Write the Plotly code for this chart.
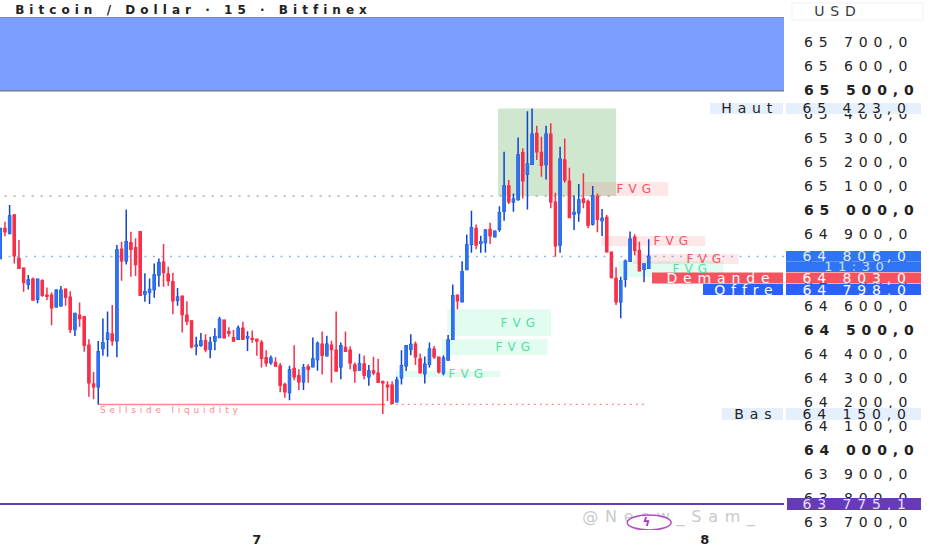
import plotly.graph_objects as go

# one row per candle (prices in USD)
opens = [64798, 64923, 64902, 64979, 64798, 64757, 64691, 64711, 64629, 64705,
         64645, 64645, 64597, 64601, 64670, 64636, 64502, 64562, 64555, 64437,
         64275, 64264, 64423, 64462, 64483, 64455, 64836, 64789, 64864, 64843,
         64909, 64650, 64658, 64669, 64729, 64782, 64733, 64701, 64625, 64641,
         64562, 64538, 64433, 64437, 64455, 64420, 64454, 64469, 64541, 64493,
         64468, 64462, 64507, 64468, 64465, 64461, 64448, 64384, 64365, 64365,
         64350, 64273, 64240, 64340, 64309, 64284, 64347, 64347, 64377, 64441,
         64393, 64436, 64416, 64347, 64427, 64416, 64354, 64333, 64358, 64305,
         64329, 64320, 64284, 64270, 64270, 64201, 64301, 64351, 64420, 64441,
         64379, 64319, 64357, 64420, 64386, 64322, 64375, 64461, 64645, 64618,
         64752, 64857, 64923, 64861, 64865, 64919, 64889, 64920, 64995, 65100,
         65034, 65044, 65239, 65150, 65191, 65319, 65240, 65190, 65316, 65032,
         64854, 65208, 65120, 64983, 64989, 65046, 65035, 64942, 65056, 64956,
         64969, 64824, 64715, 64618, 64711, 64787, 64886, 64831, 64753, 64757]
highs = [64926, 64951, 65021, 64983, 64875, 64759, 64729, 64719, 64715, 64711,
         64677, 64657, 64670, 64683, 64673, 64662, 64572, 64615, 64558, 64462,
         64325, 64454, 64548, 64577, 64604, 64854, 64868, 65002, 64909, 64882,
         64912, 64736, 64715, 64777, 64798, 64858, 64764, 64739, 64675, 64644,
         64620, 64541, 64472, 64488, 64482, 64472, 64507, 64555, 64544, 64511,
         64500, 64519, 64534, 64495, 64498, 64465, 64458, 64416, 64394, 64386,
         64363, 64280, 64351, 64436, 64336, 64358, 64357, 64469, 64452, 64494,
         64476, 64455, 64577, 64448, 64494, 64432, 64365, 64401, 64394, 64354,
         64389, 64380, 64290, 64286, 64286, 64305, 64416, 64436, 64482, 64452,
         64402, 64390, 64448, 64433, 64390, 64395, 64479, 64690, 64648, 64787,
         64898, 64997, 64940, 64893, 64921, 64947, 64914, 65016, 65243, 65125,
         65069, 65302, 65257, 65412, 65423, 65351, 65305, 65351, 65361, 65072,
         65264, 65298, 65176, 65060, 65108, 65153, 65044, 65100, 65069, 65004,
         64979, 64826, 64761, 64722, 64794, 64910, 64899, 64868, 64778, 64878]
lows = [64798, 64891, 64902, 64777, 64754, 64659, 64669, 64622, 64611, 64639,
        64625, 64520, 64593, 64597, 64601, 64488, 64475, 64514, 64409, 64222,
        64211, 64190, 64393, 64389, 64434, 64386, 64705, 64773, 64722, 64725,
        64645, 64618, 64608, 64634, 64680, 64680, 64683, 64566, 64601, 64490,
        64520, 64423, 64395, 64430, 64407, 64382, 64416, 64469, 64465, 64472,
        64451, 64462, 64458, 64413, 64447, 64393, 64344, 64347, 64355, 64350,
        64241, 64218, 64207, 64291, 64250, 64250, 64280, 64347, 64330, 64315,
        64393, 64280, 64329, 64295, 64409, 64336, 64280, 64330, 64295, 64268,
        64312, 64279, 64150, 64204, 64191, 64198, 64273, 64329, 64395, 64354,
        64322, 64277, 64344, 64379, 64319, 64312, 64375, 64458, 64586, 64618,
        64752, 64822, 64837, 64822, 64823, 64858, 64886, 64909, 64955, 65025,
        64993, 65039, 65048, 65002, 65191, 65208, 65139, 65127, 65007, 64805,
        64822, 65114, 64969, 64917, 64951, 65007, 64924, 64935, 64907, 64892,
        64826, 64715, 64604, 64549, 64678, 64785, 64812, 64747, 64699, 64757]
closes = [64923, 64909, 64975, 64809, 64757, 64698, 64708, 64625, 64711, 64645,
          64641, 64593, 64666, 64666, 64636, 64502, 64569, 64548, 64437, 64280,
          64264, 64409, 64447, 64486, 64455, 64833, 64789, 64868, 64836, 64773,
          64645, 64659, 64669, 64729, 64780, 64740, 64705, 64622, 64636, 64565,
          64537, 64430, 64436, 64454, 64419, 64448, 64472, 64544, 64468, 64486,
          64454, 64507, 64462, 64472, 64461, 64454, 64382, 64363, 64382, 64350,
          64270, 64243, 64333, 64305, 64284, 64343, 64337, 64379, 64444, 64395,
          64441, 64419, 64329, 64434, 64411, 64363, 64330, 64358, 64312, 64329,
          64322, 64282, 64280, 64264, 64194, 64291, 64351, 64434, 64440, 64389,
          64322, 64357, 64420, 64389, 64326, 64382, 64458, 64643, 64622, 64743,
          64854, 64926, 64854, 64868, 64916, 64893, 64912, 64989, 65100, 65034,
          65045, 65229, 65122, 65191, 65316, 65243, 65187, 65316, 65034, 64851,
          65211, 65125, 64969, 64990, 65042, 65032, 64937, 65058, 64961, 64965,
          64826, 64719, 64618, 64704, 64787, 64878, 64831, 64747, 64775, 64806]
candle_x = list(range(len(closes)))

price_ticks = [65700, 65600, 65500, 65400, 65300, 65200, 65100, 65000, 64900, 64800, 64700,
               64600, 64500, 64400, 64300, 64200, 64100, 64000, 63900, 63800, 63700]
price_tick_labels = ["65 700,0", "65 600,0", "<b>65 500,0</b>", "65 400,0", "65 300,0", "65 200,0",
                     "65 100,0", "<b>65 000,0</b>", "64 900,0", "64 800,0", "64 700,0", "64 600,0",
                     "<b>64 500,0</b>", "64 400,0", "64 300,0", "64 200,0", "64 100,0",
                     "<b>64 000,0</b>", "63 900,0", "63 800,0", "63 700,0"]
day_ticks = [55, 151]
day_labels = ["<b>7</b>", "<b>8</b>"]

# FVG zones: left, right, top, bottom, label centre
red_fvg_left = [125.0, 128.8, 135.7]
red_fvg_right = [143.2, 151.1, 158.2]
red_fvg_top = [65117, 64892, 64817]
red_fvg_bottom = [65058, 64850, 64775]
red_fvg_label = [136.3, 144.3, 151.2]
green_fvg_left = [132.5, 95.8, 94.7, 84.7]
green_fvg_right = [155.0, 118.1, 117.3, 107.2]
green_fvg_top = [64788, 64587, 64462, 64329]
green_fvg_bottom = [64721, 64475, 64396, 64304]
green_fvg_label = [148.2, 111.5, 110.3, 100.3]

BLUE = "#2f74f5"
BLUE_WICK = "#0f45c8"
RED = "#f7304a"
LABEL_RED = "#f7525f"
GREEN_TXT = "#4ce3a3"
PURPLE = "#673ab7"

X_RANGE = [-0.06, 168.0]
Y_RANGE = [63666.7, 65804.2]

fig = go.Figure()

# full candles (wicks), then the bodies again on top in the lighter blue
fig.add_trace(go.Candlestick(
    x=candle_x, open=opens, high=highs, low=lows, close=closes,
    increasing=dict(line=dict(color=BLUE_WICK, width=1.5), fillcolor=BLUE_WICK),
    decreasing=dict(line=dict(color=RED, width=1.5), fillcolor=RED),
    whiskerwidth=0, showlegend=False, hoverinfo="skip",
))
fig.add_trace(go.Candlestick(
    x=candle_x, open=opens, close=closes,
    high=[max(a, b) for a, b in zip(opens, closes)],
    low=[min(a, b) for a, b in zip(opens, closes)],
    increasing=dict(line=dict(color=BLUE, width=1), fillcolor=BLUE),
    decreasing=dict(line=dict(color=RED, width=1), fillcolor=RED),
    whiskerwidth=0, showlegend=False, hoverinfo="skip",
))
# watermark as a trace so the ring sits over it
fig.add_trace(go.Scatter(x=[144], y=[63717], mode="text", text=["@Neow_Sam_"], textposition="middle center",
                         textfont=dict(color="#c9c9cd", size=16, family="DejaVu Sans"),
                         showlegend=False, hoverinfo="skip"))

shapes = [
    # blue band at the top
    dict(type="rect", xref="paper", x0=0, x1=1, yref="y", y0=65496, y1=Y_RANGE[1],
         fillcolor="#7b9eff", line=dict(width=0), layer="below"),
    dict(type="line", xref="paper", x0=0, x1=1, y0=65496, y1=65496,
         line=dict(color="#707880", width=1.2)),
    dict(type="line", xref="paper", x0=0, x1=1, y0=Y_RANGE[1], y1=Y_RANGE[1],
         line=dict(color="#707880", width=1.2)),
    # green range box
    dict(type="rect", x0=106.7, x1=132, y0=65058, y1=65423, fillcolor="#cfe7cf",
         line=dict(width=0), layer="below"),
    dict(type="line", x0=-1, x1=132, y0=65058, y1=65058,
         line=dict(color="#8aa58a", width=1.2, dash="2px,7px"), layer="below"),
    dict(type="line", xref="paper", x0=0, x1=1, y0=64806, y1=64806,
         line=dict(color="#8db4f8", width=1.5, dash="2px,6.5px"), layer="below"),
    # sellside liquidity
    dict(type="line", x0=21, x1=82.5, y0=64190, y1=64190,
         line=dict(color="#f98a94", width=1.5), layer="below"),
    dict(type="line", x0=83.5, x1=138.5, y0=64190, y1=64190,
         line=dict(color="#f98a94", width=1.3, dash="2px,4px"), layer="below"),
    # last price level
    dict(type="line", xref="paper", x0=0, x1=1, y0=63775.1, y1=63775.1,
         line=dict(color=PURPLE, width=2)),
    # watermark ring
    dict(type="circle", x0=134.4, x1=143.8, y0=63667, y1=63729,
         fillcolor="white", line=dict(color="#b04fc0", width=1.5)),
]
for x0, x1, y1, y0 in zip(red_fvg_left, red_fvg_right, red_fvg_top, red_fvg_bottom):
    shapes.append(dict(type="rect", x0=x0, x1=x1, y0=y0, y1=y1, fillcolor="rgba(247,82,95,0.14)",
                       line=dict(width=0), layer="below"))
for x0, x1, y1, y0 in zip(green_fvg_left, green_fvg_right, green_fvg_top, green_fvg_bottom):
    shapes.append(dict(type="rect", x0=x0, x1=x1, y0=y0, y1=y1, fillcolor="rgba(0,230,118,0.11)",
                       line=dict(width=0), layer="below"))


def px_x(pixel):
    # window column to paper fraction (plot spans 0..784)
    return pixel / 784


def px_y(pixel):
    # window row to paper fraction (plot spans 17..530)
    return (530 - pixel) / 513


def label_box(text, left, right, top, bottom, bg, color, size=14, edge=None, text_at=None):
    # flag on the price scale, a rect with the text over it
    shapes.append(dict(type="rect", xref="paper", yref="paper", x0=px_x(left), x1=px_x(right),
                       y0=px_y(bottom), y1=px_y(top), fillcolor=bg,
                       line=dict(color=edge or bg, width=1 if edge else 0)))
    fig.add_annotation(xref="paper", x=px_x(text_at or (left + right) / 2), yref="paper", y=px_y((top + bottom) / 2),
                       xanchor="center", yanchor="middle", xshift=3, text=text, showarrow=False,
                       font=dict(color=color, size=size, family="DejaVu Sans"))


label_box("USD", 792, 923, 3, 20, "white", "#3a3a3a", 14, edge="#f0f1f5", text_at=835)
label_box("Haut", 710, 783, 103, 114, "#e6effc", "#222222")
label_box("65 423,0", 786, 921, 103, 114, "#e6effc", "#222222")
label_box("Bas", 722, 783, 408, 420, "#e6effc", "#222222")
label_box("64 150,0", 786, 921, 408, 420, "#e6effc", "#222222")
label_box("64 806,0", 786, 921, 251, 261.5, BLUE, "#e4edff")
label_box("11:30", 786, 921, 261.5, 272, BLUE, "#cfe0ff", 13)
label_box("Demande", 652, 783, 272.5, 283.5, LABEL_RED, "white")
label_box("64 803,0", 786, 921, 272.5, 283.5, LABEL_RED, "white")
label_box("Offre", 703, 783, 284, 295, "#2962ff", "white")
label_box("64 798,0", 786, 921, 284, 295, "#2962ff", "white")
label_box("63 775,1", 787, 921, 498, 510, PURPLE, "#e8e0f8")

for cx, y1, y0 in zip(red_fvg_label, red_fvg_top, red_fvg_bottom):
    fig.add_annotation(x=cx, y=(y0 + y1) / 2, text="FVG", showarrow=False,
                       font=dict(color=LABEL_RED, size=12, family="DejaVu Sans"))
for cx, y1, y0 in zip(green_fvg_label, green_fvg_top, green_fvg_bottom):
    fig.add_annotation(x=cx, y=(y0 + y1) / 2, text="FVG", showarrow=False,
                       font=dict(color=GREEN_TXT, size=12, family="DejaVu Sans"))

fig.add_annotation(x=36.7, y=64167, text="Sellside liquidity", showarrow=False,
                   font=dict(color="#f98a94", size=9, family="DejaVu Sans"))
fig.add_annotation(x=139.1, y=63698, text="<b>ϟ</b>", showarrow=False,
                   font=dict(color="#a03cc0", size=12, family="DejaVu Sans"))
fig.add_annotation(xref="paper", x=px_x(193.5), xanchor="center", yref="paper", y=px_y(10), yanchor="middle",
                   text="<b>Bitcoin / Dollar · 15 · Bitfinex</b>", showarrow=False,
                   font=dict(color="#222222", size=12, family="DejaVu Sans"))

fig.update_layout(
    width=932, height=550, autosize=False,
    margin=dict(l=0, r=148, t=17, b=20),
    paper_bgcolor="white", plot_bgcolor="white",
    shapes=shapes, showlegend=False, boxgap=0.4,
    xaxis=dict(range=X_RANGE, rangeslider=dict(visible=False), showgrid=False, zeroline=False,
               tickmode="array", tickvals=day_ticks, ticktext=day_labels, ticks="", ticklen=0,
               tickfont=dict(size=13, color="#222222", family="DejaVu Sans"), showline=False),
    yaxis=dict(range=Y_RANGE, side="right", showgrid=False, zeroline=False, showline=False,
               tickmode="array", tickvals=price_ticks, ticktext=price_tick_labels, ticks="",
               ticklabelstandoff=19, tickfont=dict(size=14, color="#222222", family="DejaVu Sans")),
)

# the source image is stretched sideways, spacing the letters gets closest to that
stretch = """
document.body.style.margin = '0';
var s = document.createElement('style');
s.textContent = '.ytick text, .annotation-text, .textpoint text {letter-spacing: .42em}';
document.head.appendChild(s);
"""
fig.write_html("out.html", post_script=stretch, config=dict(displayModeBar=False))
